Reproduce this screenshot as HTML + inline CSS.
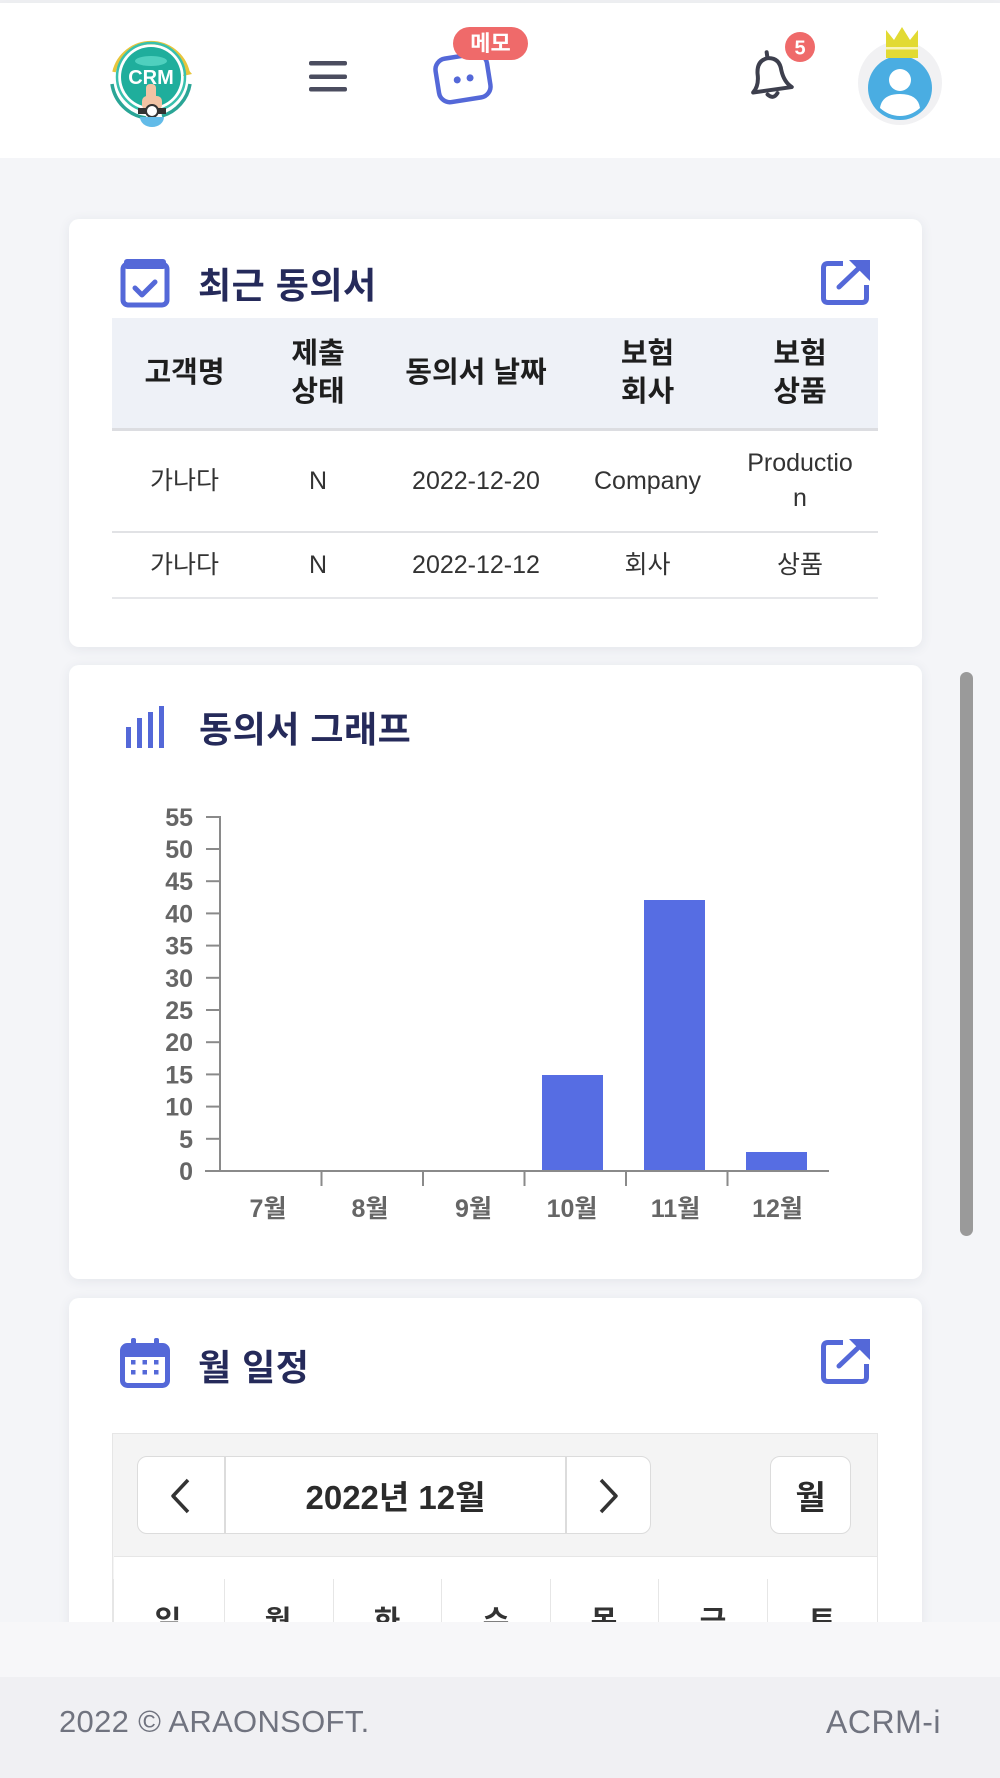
<!DOCTYPE html>
<html lang="ko">
<head>
<meta charset="utf-8">
<style>
  html,body{margin:0;padding:0;}
  body{width:1000px;height:1778px;position:relative;overflow:hidden;background:#f5f6f9;
       font-family:"Liberation Sans","Noto Sans CJK KR",sans-serif;color:#222;}
  .abs{position:absolute;}
  .card{position:absolute;left:69px;width:853px;background:#fff;border-radius:10px;
        box-shadow:0 2px 12px rgba(40,45,80,0.08);}
  .title{position:absolute;font-size:36px;font-weight:bold;color:#252a5a;height:40px;
         display:flex;align-items:center;white-space:nowrap;letter-spacing:0.5px;}
  .row{position:absolute;left:112px;width:766px;display:flex;}
  .row > div{display:flex;align-items:center;justify-content:center;text-align:center;}
  .th > div{font-size:29px;font-weight:bold;color:#1e1e1e;line-height:38px;}
  .td > div{font-size:25px;color:#333;line-height:35px;}
  .c1{width:145px}.c2{width:122px}.c3{width:194px}.c4{width:149px}.c5{width:156px}
  .day{position:absolute;top:1607px;width:108px;text-align:center;font-size:29px;font-weight:bold;color:#333;line-height:30px;}
</style>
</head>
<body>
<div class="abs" style="left:0;top:0;width:1000px;height:3px;background:#eeeff2"></div>
<div class="abs" style="left:0;top:3px;width:1000px;height:155px;background:#fff;box-shadow:0 3px 10px rgba(0,0,0,0.03)"></div>

<svg class="abs" style="left:0;top:0" width="1000" height="158" viewBox="0 0 1000 158">
  <path d="M114 72 A38 38 0 0 1 188 72" fill="none" stroke="#e7c53c" stroke-width="3.5"/>
  <polygon points="186,67 192,74 183,76" fill="#e7c53c"/>
  <path d="M112 84 A40 40 0 0 0 146 118" fill="none" stroke="#2aa596" stroke-width="3.5"/>
  <path d="M190 84 A40 40 0 0 1 162 116" fill="none" stroke="#2aa596" stroke-width="3.5"/>
  <circle cx="151" cy="77" r="34" fill="none" stroke="#38c0ad" stroke-width="2.5"/>
  <circle cx="151" cy="77" r="30" fill="#1fae9c"/>
  <ellipse cx="151" cy="61" rx="16" ry="5" fill="#4fd0be"/>
  <text x="151" y="84" text-anchor="middle" font-family="Liberation Sans" font-weight="bold" font-size="20" fill="#fff">CRM</text>
  <rect x="146" y="84" width="10" height="24" rx="4" fill="#f1c3a4"/>
  <rect x="142" y="96" width="20" height="14" rx="5" fill="#f1c3a4"/>
  <rect x="138" y="108" width="28" height="6" fill="#333"/>
  <circle cx="152" cy="111" r="6" fill="#fff" stroke="#333" stroke-width="2"/>
  <path d="M140 117 H164 A12 10 0 0 1 140 117 Z" fill="#62bbe8"/>
  <rect x="309" y="61" width="38" height="4.5" rx="2" fill="#4b4d5f"/>
  <rect x="309" y="74.5" width="38" height="4.5" rx="2" fill="#4b4d5f"/>
  <rect x="309" y="87" width="38" height="4.5" rx="2" fill="#4b4d5f"/>
  <g transform="rotate(-9 463 78)">
    <rect x="437" y="56" width="52" height="44" rx="11" fill="#fff" stroke="#5468d8" stroke-width="4.5"/>
    <circle cx="457" cy="79" r="3.5" fill="#5468d8"/>
    <circle cx="470" cy="79" r="3.5" fill="#5468d8"/>
  </g>
  <rect x="453" y="27" width="75" height="33" rx="16.5" fill="#ef6a6a"/>
  <text x="490.5" y="51" text-anchor="middle" font-family="Liberation Sans, Noto Sans CJK KR, sans-serif" font-weight="bold" font-size="22" fill="#fff">메모</text>
  <g transform="rotate(-8 770 76)" fill="none" stroke="#3d3f4d" stroke-width="4" stroke-linejoin="round" stroke-linecap="round">
    <path d="M751 90 Q758 84 758 72 Q759 59 770 58 Q782 59 782 72 Q783 84 790 90 Z"/>
    <line x1="770" y1="52" x2="770" y2="57"/>
    <path d="M765 94 Q770 100 775 94"/>
  </g>
  <circle cx="800" cy="47" r="15" fill="#ef6a6a"/>
  <text x="800" y="54.5" text-anchor="middle" font-family="Liberation Sans" font-weight="bold" font-size="20" fill="#fff">5</text>
  <circle cx="900" cy="83" r="42" fill="#f1f1f3"/>
  <circle cx="900" cy="88" r="32" fill="#4aade2"/>
  <circle cx="900" cy="80" r="11" fill="#fff"/>
  <path d="M880 108 Q882 94 900 94 Q918 94 920 108 Q911 116 900 116 Q889 116 880 108 Z" fill="#fff"/>
  <polygon points="886,58 886,30 894,40 902,27 910,40 918,30 918,58" fill="#e2da33"/>
  <rect x="886" y="47" width="32" height="2.5" fill="#f8f4b8"/>
</svg>

<div class="abs" style="left:0;top:158px;width:1000px;height:1464px;overflow:hidden;background:#f4f5f8">
 <div class="abs" style="left:0;top:-158px;width:1000px;height:1800px">

  <div class="card" style="top:219px;height:428px"></div>
  <svg class="abs" style="left:120px;top:259px" width="50" height="49" viewBox="0 0 50 49">
    <rect x="3" y="5" width="44" height="41" rx="5" fill="none" stroke="#5468d8" stroke-width="5"/>
    <rect x="4" y="0" width="42" height="10" rx="3" fill="#5468d8"/>
    <path d="M15 29 L22 36 L35 23" fill="none" stroke="#5468d8" stroke-width="5" stroke-linecap="round" stroke-linejoin="round"/>
  </svg>
  <div class="title" style="left:198px;top:263px">최근 동의서</div>
  <svg class="abs" style="left:820px;top:260px" width="51" height="47" viewBox="0 0 51 47">
    <path d="M23 3.5 H8 Q3.5 3.5 3.5 8 V38 Q3.5 42.5 8 42.5 H42 Q46.5 42.5 46.5 38 V25" fill="none" stroke="#5468d8" stroke-width="5"/>
    <path d="M19 27 L40 7" stroke="#5468d8" stroke-width="5" stroke-linecap="round"/>
    <polygon points="29,0 50,0 50,21" fill="#5468d8"/>
  </svg>

  <div class="abs" style="left:112px;top:318px;width:766px;height:110px;background:#eef1f7"></div>
  <div class="row th" style="top:318px;height:110px">
    <div class="c1">고객명</div><div class="c2">제출<br>상태</div><div class="c3">동의서 날짜</div><div class="c4">보험<br>회사</div><div class="c5">보험<br>상품</div>
  </div>
  <div class="abs" style="left:112px;top:428px;width:766px;height:3px;background:#dcdde1"></div>
  <div class="row td" style="top:431px;height:100px">
    <div class="c1">가나다</div><div class="c2">N</div><div class="c3">2022-12-20</div><div class="c4">Company</div><div class="c5">Productio<br>n</div>
  </div>
  <div class="abs" style="left:112px;top:531px;width:766px;height:2px;background:#e1e2e5"></div>
  <div class="row td" style="top:533px;height:64px">
    <div class="c1">가나다</div><div class="c2">N</div><div class="c3">2022-12-12</div><div class="c4">회사</div><div class="c5">상품</div>
  </div>
  <div class="abs" style="left:112px;top:597px;width:766px;height:2px;background:#e6e7ea"></div>

  <div class="card" style="top:665px;height:614px"></div>
  <svg class="abs" style="left:126px;top:706px" width="40" height="42" viewBox="0 0 40 42">
    <rect x="0" y="21" width="5" height="21" fill="#5468d8"/>
    <rect x="11" y="12" width="5" height="30" fill="#5468d8"/>
    <rect x="22" y="6" width="5" height="36" fill="#5468d8"/>
    <rect x="33" y="0" width="5" height="42" fill="#5468d8"/>
  </svg>
  <div class="title" style="left:199px;top:707px">동의서 그래프</div>

  <svg class="abs" style="left:100px;top:780px" width="760" height="460" viewBox="100 780 760 460" font-family="Liberation Sans, Noto Sans CJK KR, sans-serif">
    <rect x="542" y="1075" width="61" height="96" fill="#566de3"/>
    <rect x="644" y="900" width="61" height="271" fill="#566de3"/>
    <rect x="746" y="1152" width="61" height="19" fill="#566de3"/>
    <g stroke="#8a8a8a" stroke-width="2">
      <line x1="220" y1="816" x2="220" y2="1171"/>
      <line x1="205" y1="1171" x2="829" y2="1171"/>
      <line x1="206" y1="1138.8" x2="220" y2="1138.8"/>
      <line x1="206" y1="1106.6" x2="220" y2="1106.6"/>
      <line x1="206" y1="1074.4" x2="220" y2="1074.4"/>
      <line x1="206" y1="1042.2" x2="220" y2="1042.2"/>
      <line x1="206" y1="1010" x2="220" y2="1010"/>
      <line x1="206" y1="977.8" x2="220" y2="977.8"/>
      <line x1="206" y1="945.6" x2="220" y2="945.6"/>
      <line x1="206" y1="913.4" x2="220" y2="913.4"/>
      <line x1="206" y1="881.2" x2="220" y2="881.2"/>
      <line x1="206" y1="849" x2="220" y2="849"/>
      <line x1="206" y1="817" x2="220" y2="817"/>
      <line x1="321.5" y1="1171" x2="321.5" y2="1186"/>
      <line x1="423" y1="1171" x2="423" y2="1186"/>
      <line x1="524.5" y1="1171" x2="524.5" y2="1186"/>
      <line x1="626" y1="1171" x2="626" y2="1186"/>
      <line x1="727.5" y1="1171" x2="727.5" y2="1186"/>
    </g>
    <g fill="#666" font-size="25" font-weight="bold" text-anchor="end">
      <text x="193" y="1180">0</text>
      <text x="193" y="1147.8">5</text>
      <text x="193" y="1115.6">10</text>
      <text x="193" y="1083.4">15</text>
      <text x="193" y="1051.2">20</text>
      <text x="193" y="1019">25</text>
      <text x="193" y="986.8">30</text>
      <text x="193" y="954.6">35</text>
      <text x="193" y="922.4">40</text>
      <text x="193" y="890.2">45</text>
      <text x="193" y="858">50</text>
      <text x="193" y="825.8">55</text>
    </g>
    <g fill="#666" font-size="25" font-weight="bold" text-anchor="middle">
      <text x="268" y="1217">7월</text>
      <text x="370" y="1217">8월</text>
      <text x="473.5" y="1217">9월</text>
      <text x="572" y="1217">10월</text>
      <text x="675.5" y="1217">11월</text>
      <text x="777.5" y="1217">12월</text>
    </g>
  </svg>

  <div class="card" style="top:1298px;height:400px"></div>
  <svg class="abs" style="left:120px;top:1338px" width="50" height="50" viewBox="0 0 50 50">
    <rect x="2.5" y="7.5" width="45" height="40" rx="5" fill="none" stroke="#5468d8" stroke-width="5"/>
    <rect x="3" y="8" width="44" height="11" fill="#5468d8"/>
    <rect x="11" y="0" width="5" height="11" rx="2" fill="#5468d8"/>
    <rect x="34" y="0" width="5" height="11" rx="2" fill="#5468d8"/>
    <rect x="11" y="22" width="4.5" height="4.5" fill="#5468d8"/>
    <rect x="22.5" y="22" width="4.5" height="4.5" fill="#5468d8"/>
    <rect x="34" y="22" width="4.5" height="4.5" fill="#5468d8"/>
    <rect x="11" y="32" width="4.5" height="4.5" fill="#5468d8"/>
    <rect x="22.5" y="32" width="4.5" height="4.5" fill="#5468d8"/>
    <rect x="34" y="32" width="4.5" height="4.5" fill="#5468d8"/>
  </svg>
  <div class="title" style="left:198px;top:1345px">월 일정</div>
  <svg class="abs" style="left:820px;top:1339px" width="51" height="47" viewBox="0 0 51 47">
    <path d="M23 3.5 H8 Q3.5 3.5 3.5 8 V38 Q3.5 42.5 8 42.5 H42 Q46.5 42.5 46.5 38 V25" fill="none" stroke="#5468d8" stroke-width="5"/>
    <path d="M19 27 L40 7" stroke="#5468d8" stroke-width="5" stroke-linecap="round"/>
    <polygon points="29,0 50,0 50,21" fill="#5468d8"/>
  </svg>

  <div class="abs" style="left:112px;top:1433px;width:764px;height:300px;background:#f4f4f4;border:1px solid #e6e6e6"></div>
  <div class="abs" style="left:114px;top:1556px;width:763px;height:200px;background:#fff;border-top:1px solid #e6e6e6"></div>
  <div class="abs" style="left:137px;top:1456px;width:512px;height:76px;background:#fff;border:1.5px solid #dcdcdc;border-radius:10px"></div>
  <div class="abs" style="left:224px;top:1457px;width:1.5px;height:77px;background:#dcdcdc"></div>
  <div class="abs" style="left:565px;top:1457px;width:1.5px;height:77px;background:#dcdcdc"></div>
  <svg class="abs" style="left:160px;top:1475px" width="470" height="42" viewBox="0 0 470 42">
    <polyline points="28,5 13,21 28,37" fill="none" stroke="#333" stroke-width="3.5" stroke-linejoin="round"/>
    <polyline points="441,5 456,21 441,37" fill="none" stroke="#333" stroke-width="3.5" stroke-linejoin="round"/>
  </svg>
  <div class="abs" style="left:226px;top:1475px;width:339px;height:40px;display:flex;align-items:center;justify-content:center;font-size:33px;font-weight:bold;color:#2b2b2b">2022년 12월</div>
  <div class="abs" style="left:770px;top:1456px;width:79px;height:76px;background:#fff;border:1.5px solid #dcdcdc;border-radius:10px;display:flex;align-items:center;justify-content:center;font-size:33px;font-weight:bold;color:#2b2b2b">월</div>

  <div class="abs" style="left:224px;top:1579px;width:1px;height:100px;background:#e6e6e6"></div>
  <div class="abs" style="left:333px;top:1579px;width:1px;height:100px;background:#e6e6e6"></div>
  <div class="abs" style="left:441px;top:1579px;width:1px;height:100px;background:#e6e6e6"></div>
  <div class="abs" style="left:550px;top:1579px;width:1px;height:100px;background:#e6e6e6"></div>
  <div class="abs" style="left:658px;top:1579px;width:1px;height:100px;background:#e6e6e6"></div>
  <div class="abs" style="left:767px;top:1579px;width:1px;height:100px;background:#e6e6e6"></div>
  <div class="abs" style="left:113px;top:1579px;width:1px;height:100px;background:#e6e6e6"></div>
  <div class="day" style="left:114px">일</div>
  <div class="day" style="left:224px">월</div>
  <div class="day" style="left:333px">화</div>
  <div class="day" style="left:442px">수</div>
  <div class="day" style="left:550px">목</div>
  <div class="day" style="left:659px">금</div>
  <div class="day" style="left:768px">토</div>

  <div class="abs" style="left:960px;top:672px;width:13px;height:564px;border-radius:7px;background:#9a9a9a"></div>
 </div>
</div>

<div class="abs" style="left:0;top:1622px;width:1000px;height:55px;background:#f7f7f9"></div>
<div class="abs" style="left:0;top:1677px;width:1000px;height:101px;background:#f0f0f3"></div>
<div class="abs" style="left:59px;top:1702px;height:40px;display:flex;align-items:center;font-size:31px;color:#70737f;white-space:nowrap;letter-spacing:0.3px">2022 © ARAONSOFT.</div>
<div class="abs" style="right:59px;top:1702px;height:40px;display:flex;align-items:center;font-size:32px;color:#70737f;white-space:nowrap;letter-spacing:0.5px">ACRM-i</div>
</body>
</html>
